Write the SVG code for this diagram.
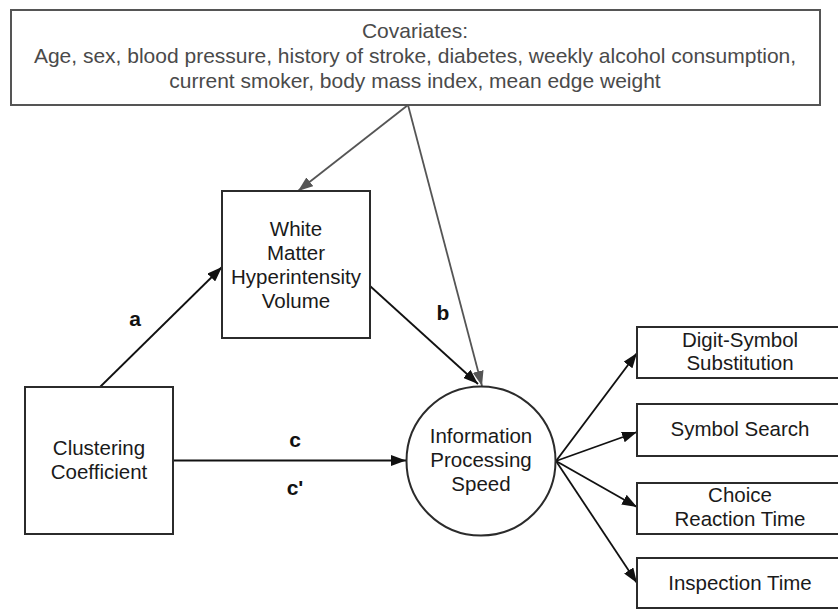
<svg xmlns="http://www.w3.org/2000/svg" width="838" height="610" viewBox="0 0 838 610">
<defs>
<style>
.box{fill:#fff;stroke:#2b2b2b;stroke-width:2}
.cov{fill:#fff;stroke:#555;stroke-width:2}
.t{font-family:"Liberation Sans",Arial,sans-serif;font-size:20.5px;fill:#1a1a1a;text-anchor:middle}
.tg{font-family:"Liberation Sans",Arial,sans-serif;font-size:21px;fill:#4a4a4a;text-anchor:middle}
.lbl{font-family:"Liberation Sans",Arial,sans-serif;font-size:21px;font-weight:bold;fill:#111;text-anchor:middle}
.ln{stroke:#111;stroke-width:1.8;fill:none}
.lg{stroke:#555;stroke-width:1.8;fill:none}
</style>
<marker id="ah" markerUnits="userSpaceOnUse" markerWidth="15" markerHeight="11" refX="15" refY="5.5" orient="auto">
<path d="M0,0 L15,5.5 L0,11 z" fill="#111"/>
</marker>
<marker id="ahg" markerUnits="userSpaceOnUse" markerWidth="15" markerHeight="11" refX="15" refY="5.5" orient="auto">
<path d="M0,0 L15,5.5 L0,11 z" fill="#555"/>
</marker>
</defs>
<rect width="838" height="610" fill="#fff"/>
<g id="connectors">
<line class="lg" x1="408" y1="105" x2="298" y2="191" marker-end="url(#ahg)"/>
<line class="lg" x1="408" y1="105" x2="482" y2="386" marker-end="url(#ahg)"/>
<line class="ln" x1="100" y1="387" x2="222" y2="267" marker-end="url(#ah)"/>
<line class="ln" x1="370" y1="286" x2="478" y2="384" marker-end="url(#ah)"/>
<line class="ln" x1="173" y1="460.5" x2="406" y2="460.5" marker-end="url(#ah)"/>
<line class="ln" x1="556" y1="461" x2="637" y2="353" marker-end="url(#ah)"/>
<line class="ln" x1="556" y1="461" x2="637" y2="432" marker-end="url(#ah)"/>
<line class="ln" x1="556" y1="461" x2="637" y2="507" marker-end="url(#ah)"/>
<line class="ln" x1="556" y1="461" x2="637" y2="583" marker-end="url(#ah)"/>
<text class="lbl" x="135" y="326">a</text>
<text class="lbl" x="443" y="320">b</text>
<text class="lbl" x="295" y="447">c</text>
<text class="lbl" x="295" y="495">c'</text>
</g>
<g id="covariates">
<rect class="cov" x="11" y="10" width="809" height="95"/>
<text class="tg" x="415" y="38">Covariates:</text>
<text class="tg" x="415" y="63">Age, sex, blood pressure, history of stroke, diabetes, weekly alcohol consumption,</text>
<text class="tg" x="415" y="88">current smoker, body mass index, mean edge weight</text>
</g>
<g id="wmh">
<rect class="box" x="222" y="191" width="148" height="147"/>
<text class="t" x="296" y="235.5">White</text>
<text class="t" x="296" y="259.5">Matter</text>
<text class="t" x="296" y="283.5">Hyperintensity</text>
<text class="t" x="296" y="307.5">Volume</text>
</g>
<g id="clustering">
<rect class="box" x="25" y="387" width="148" height="147"/>
<text class="t" x="99" y="455">Clustering</text>
<text class="t" x="99" y="479">Coefficient</text>
</g>
<g id="ips">
<circle class="box" cx="481" cy="461" r="74.5"/>
<text class="t" x="481" y="443">Information</text>
<text class="t" x="481" y="467">Processing</text>
<text class="t" x="481" y="491">Speed</text>
</g>
<g id="digit-symbol">
<rect class="box" x="637" y="327" width="208" height="51"/>
<text class="t" x="740" y="347">Digit-Symbol</text>
<text class="t" x="740" y="370">Substitution</text>
</g>
<g id="symbol-search">
<rect class="box" x="637" y="404" width="208" height="52"/>
<text class="t" x="740" y="436">Symbol Search</text>
</g>
<g id="choice-rt">
<rect class="box" x="637" y="483" width="208" height="51"/>
<text class="t" x="740" y="502">Choice</text>
<text class="t" x="740" y="526">Reaction Time</text>
</g>
<g id="inspection">
<rect class="box" x="637" y="558" width="208" height="50"/>
<text class="t" x="740" y="590">Inspection Time</text>
</g>
</svg>
